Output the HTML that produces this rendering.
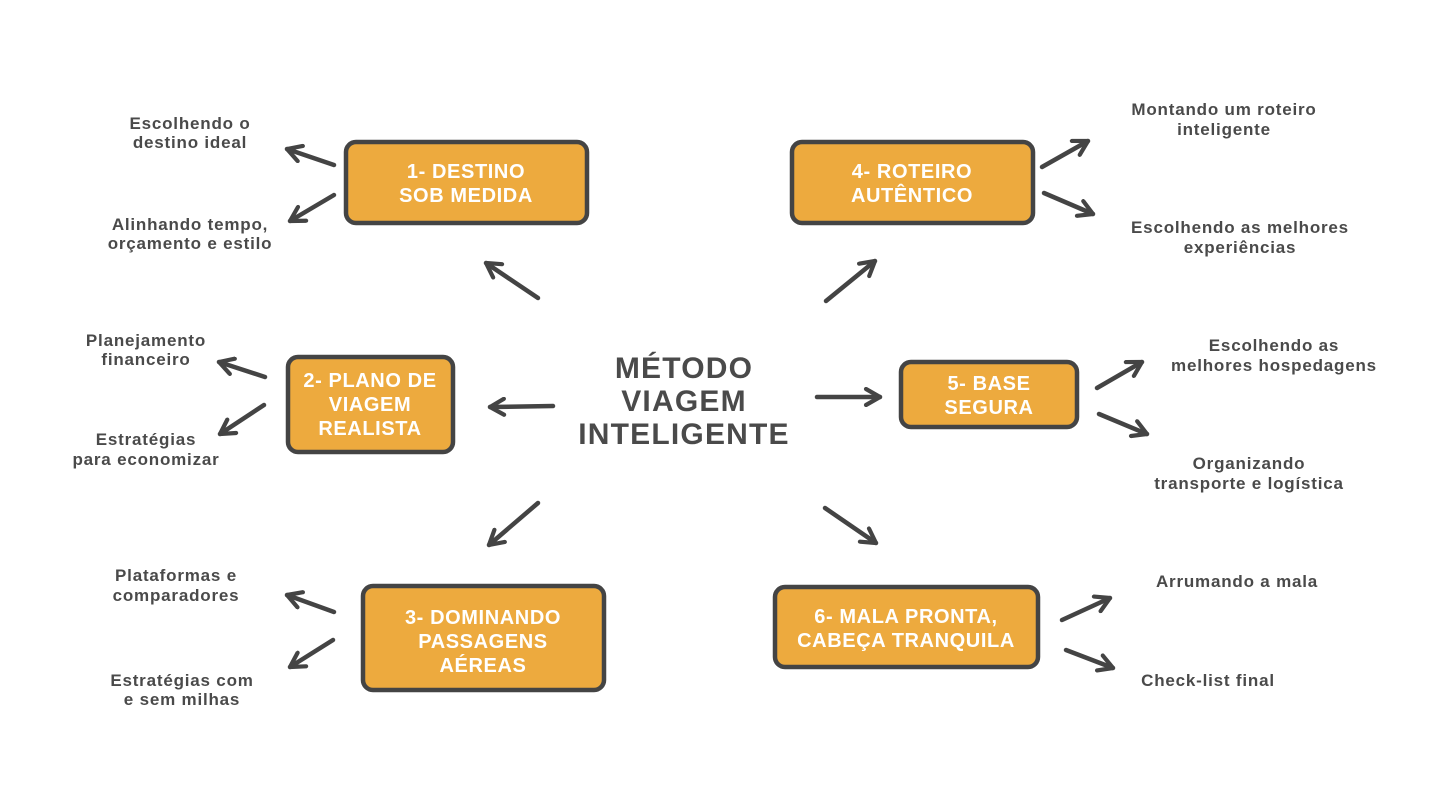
<!DOCTYPE html>
<html><head><meta charset="utf-8"><style>
html,body{margin:0;padding:0;background:#fff;}
svg{display:block;}
.l{font-family:"Liberation Sans",sans-serif;font-weight:bold;font-size:17px;fill:#4a4a4a;text-anchor:middle;letter-spacing:0.8px;}
.b{font-family:"Liberation Sans",sans-serif;font-weight:bold;font-size:20px;fill:#fff;text-anchor:middle;letter-spacing:0.6px;}
.c{font-family:"Liberation Sans",sans-serif;font-weight:bold;font-size:30px;fill:#4a4a4a;text-anchor:middle;letter-spacing:1.2px;}
</style></head><body>
<svg width="1440" height="810" viewBox="0 0 1440 810" xmlns="http://www.w3.org/2000/svg">
<defs>
<marker id="a" viewBox="0 0 20 20" refX="17" refY="10" markerWidth="20" markerHeight="20" markerUnits="userSpaceOnUse" orient="auto">
<path d="M3,2 L17,10 L3,18" fill="none" stroke="#444" stroke-width="4.2" stroke-linecap="round" stroke-linejoin="round"/>
</marker>
</defs>
<g stroke="#444" stroke-width="4.5" fill="#EDAA3E">
<rect x="346" y="142" width="241" height="81" rx="10"/>
<rect x="792" y="142" width="241" height="81" rx="10"/>
<rect x="288" y="357" width="165" height="95" rx="10"/>
<rect x="901" y="362" width="176" height="65" rx="10"/>
<rect x="363" y="586" width="241" height="104" rx="10"/>
<rect x="775" y="587" width="263" height="80" rx="10"/>
</g>
<g stroke="#444" stroke-width="4.5" stroke-linecap="round" fill="none" marker-end="url(#a)">
<line x1="334" y1="165" x2="287" y2="149"/>
<line x1="334" y1="195" x2="290" y2="221"/>
<line x1="538" y1="298" x2="486" y2="263"/>
<line x1="1042" y1="167" x2="1088" y2="141"/>
<line x1="1044" y1="193" x2="1093" y2="214"/>
<line x1="826" y1="301" x2="875" y2="261"/>
<line x1="265" y1="377" x2="219" y2="362"/>
<line x1="264" y1="405" x2="220" y2="434"/>
<line x1="553" y1="406" x2="490" y2="407"/>
<line x1="1097" y1="388" x2="1142" y2="362"/>
<line x1="1099" y1="414" x2="1147" y2="434"/>
<line x1="817" y1="397" x2="880" y2="397"/>
<line x1="334" y1="612" x2="287" y2="595"/>
<line x1="333" y1="640" x2="290" y2="667"/>
<line x1="538" y1="503" x2="489" y2="545"/>
<line x1="1062" y1="620" x2="1110" y2="598"/>
<line x1="1066" y1="650" x2="1113" y2="668"/>
<line x1="825" y1="508" x2="876" y2="543"/>
</g>
<text class="b" x="466" y="178">1- DESTINO</text>
<text class="b" x="466" y="202">SOB MEDIDA</text>
<text class="b" x="912" y="178">4- ROTEIRO</text>
<text class="b" x="912" y="202">AUTÊNTICO</text>
<text class="b" x="370" y="387">2- PLANO DE</text>
<text class="b" x="370" y="411">VIAGEM</text>
<text class="b" x="370" y="435">REALISTA</text>
<text class="b" x="989" y="390">5- BASE</text>
<text class="b" x="989" y="414">SEGURA</text>
<text class="b" x="483" y="624">3- DOMINANDO</text>
<text class="b" x="483" y="648">PASSAGENS</text>
<text class="b" x="483" y="672">AÉREAS</text>
<text class="b" x="906" y="623">6- MALA PRONTA,</text>
<text class="b" x="906" y="647">CABEÇA TRANQUILA</text>
<text class="c" x="684" y="378">MÉTODO</text>
<text class="c" x="684" y="411">VIAGEM</text>
<text class="c" x="684" y="444">INTELIGENTE</text>
<text class="l" x="190" y="129">Escolhendo o</text>
<text class="l" x="190" y="148">destino ideal</text>
<text class="l" x="190" y="230">Alinhando tempo,</text>
<text class="l" x="190" y="249">orçamento e estilo</text>
<text class="l" x="146" y="346">Planejamento</text>
<text class="l" x="146" y="365">financeiro</text>
<text class="l" x="146" y="445">Estratégias</text>
<text class="l" x="146" y="465">para economizar</text>
<text class="l" x="176" y="581">Plataformas e</text>
<text class="l" x="176" y="601">comparadores</text>
<text class="l" x="182" y="686">Estratégias com</text>
<text class="l" x="182" y="705">e sem milhas</text>
<text class="l" x="1224" y="115">Montando um roteiro</text>
<text class="l" x="1224" y="135">inteligente</text>
<text class="l" x="1240" y="233">Escolhendo as melhores</text>
<text class="l" x="1240" y="253">experiências</text>
<text class="l" x="1274" y="351">Escolhendo as</text>
<text class="l" x="1274" y="371">melhores hospedagens</text>
<text class="l" x="1249" y="469">Organizando</text>
<text class="l" x="1249" y="489">transporte e logística</text>
<text class="l" x="1237" y="587">Arrumando a mala</text>
<text class="l" x="1208" y="686">Check-list final</text>
</svg>
</body></html>
